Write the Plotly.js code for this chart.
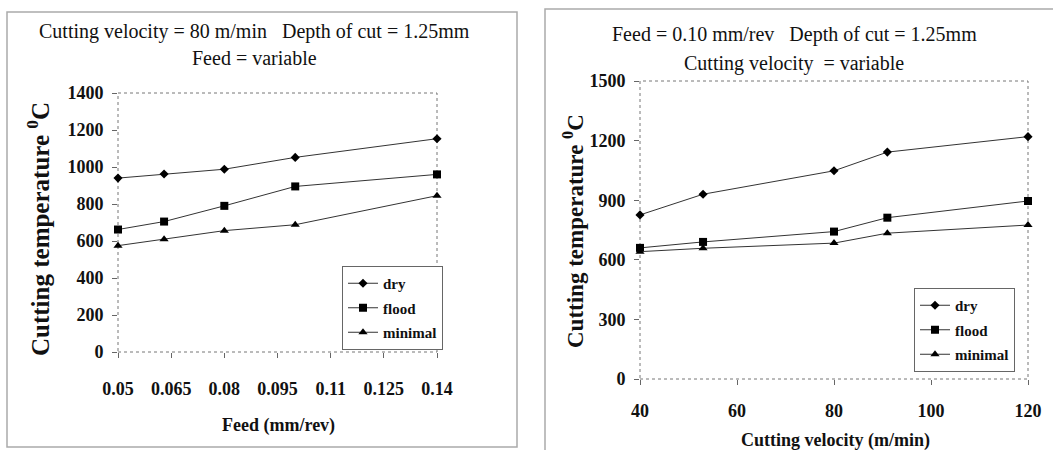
<!DOCTYPE html>
<html>
<head>
<meta charset="utf-8">
<script src="https://cdn.plot.ly/plotly-3.0.1.min.js"></script>
<style>html,body{margin:0;padding:0;background:#fff;}#chart{width:1053px;height:450px;}</style>
</head>
<body>
<div id="chart"></div>
<script>
// Left chart: feed variable
const feed = [0.05, 0.063, 0.08, 0.1, 0.14];
const feedDry = [940, 962, 988, 1052, 1153];
const feedFlood = [662, 705, 790, 895, 960];
const feedMinimal = [575, 610, 656, 688, 845];
const feedTickVals = [0.05, 0.065, 0.08, 0.095, 0.11, 0.125, 0.14];
const feedTickText = ["0.05", "0.065", "0.08", "0.095", "0.11", "0.125", "0.14"];

// Right chart: cutting velocity variable
const velocity = [40, 53, 80, 91, 120];
const velDry = [826, 930, 1048, 1142, 1220];
const velFlood = [660, 690, 742, 812, 896];
const velMinimal = [641, 658, 684, 734, 775];

const seriesNames = ["dry", "flood", "minimal"];
const symbols = ["diamond", "square", "triangle-up"];
const sizes = [7, 8, 8];

const serif = "Liberation Serif, Times New Roman, serif";
const ink = "#111";

function mk(x, y, i, xa, ya, leg) {
  return {
    x: x, y: y, name: seriesNames[i], type: "scatter", mode: "lines+markers",
    xaxis: xa, yaxis: ya, legend: leg, legendgroup: leg + i, cliponaxis: false,
    line: {color: "#333", width: 1},
    marker: {symbol: symbols[i], size: sizes[i], color: "#000"}
  };
}

const data = [
  mk(feed, feedDry, 0, "x", "y", "legend"),
  mk(feed, feedFlood, 1, "x", "y", "legend"),
  mk(feed, feedMinimal, 2, "x", "y", "legend"),
  mk(velocity, velDry, 0, "x2", "y2", "legend2"),
  mk(velocity, velFlood, 1, "x2", "y2", "legend2"),
  mk(velocity, velMinimal, 2, "x2", "y2", "legend2")
];

const W = 1053, H = 450;
const px = v => v / W, py = v => (H - v) / H;

const tickFont = {family: serif, size: 18, color: ink, weight: "bold"};
const axBase = {
  showgrid: false, zeroline: false, showline: false,
  ticks: "outside", ticklen: 5, tickcolor: "#666", tickwidth: 1,
  tickfont: tickFont
};

const legBase = {
  font: {family: serif, size: 15, color: ink, weight: "bold"},
  bgcolor: "#fff", bordercolor: "#666", borderwidth: 1,
  xanchor: "left", yanchor: "top", itemwidth: 30,
  traceorder: "grouped", tracegroupgap: 2
};

function ann(text, x, y, size, bold, angle) {
  return {
    text: text, xref: "paper", yref: "paper", x: px(x), y: py(y),
    xanchor: "center", yanchor: "middle", showarrow: false, textangle: angle || 0,
    font: {family: serif, size: size, color: ink, weight: bold ? "bold" : "normal"}
  };
}

const layout = {
  width: W, height: H,
  margin: {l: 0, r: 0, t: 0, b: 0},
  paper_bgcolor: "#fff", plot_bgcolor: "#fff",
  showlegend: true,
  xaxis: Object.assign({}, axBase, {
    domain: [px(118), px(437)], range: [0.05, 0.14],
    tickvals: feedTickVals, ticktext: feedTickText, ticklabelstandoff: 15, anchor: "y"
  }),
  yaxis: Object.assign({}, axBase, {
    domain: [py(352), py(93)], range: [0, 1400], dtick: 200, ticklabelstandoff: 5, anchor: "x"
  }),
  xaxis2: Object.assign({}, axBase, {
    domain: [px(640), px(1028)], range: [40, 120], dtick: 20, ticklabelstandoff: 10, anchor: "y2"
  }),
  yaxis2: Object.assign({}, axBase, {
    domain: [py(379), py(81)], range: [0, 1500], dtick: 300, ticklabelstandoff: 5, anchor: "x2"
  }),
  legend: Object.assign({}, legBase, {x: px(342), y: py(266)}),
  legend2: Object.assign({}, legBase, {x: px(914), y: py(288)}),
  shapes: [
    {type: "rect", xref: "paper", yref: "paper", x0: px(7), x1: px(517), y0: py(447), y1: py(12),
     line: {color: "#aaa", width: 1.5}},
    {type: "rect", xref: "paper", yref: "paper", x0: px(545), x1: px(1060), y0: py(460), y1: py(9),
     line: {color: "#aaa", width: 1.5}},
    {type: "rect", xref: "x domain", yref: "y domain", x0: 0, x1: 1, y0: 0, y1: 1,
     line: {color: "#777", width: 1, dash: "dot"}, layer: "below"},
    {type: "rect", xref: "x2 domain", yref: "y2 domain", x0: 0, x1: 1, y0: 0, y1: 1,
     line: {color: "#777", width: 1, dash: "dot"}, layer: "below"}
  ],
  annotations: [
    ann("Cutting velocity = 80 m/min&nbsp;&nbsp;&nbsp;Depth of cut = 1.25mm", 254, 31, 20, false),
    ann("Feed = variable", 254, 58, 20, false),
    ann("Feed = 0.10 mm/rev&nbsp;&nbsp;&nbsp;Depth of cut = 1.25mm", 794, 35, 20, false),
    ann("Cutting velocity&nbsp;&nbsp;= variable", 794, 63, 20, false),
    ann("Cutting temperature <sup>0</sup>C", 38, 229, 25, true, -90),
    ann("Cutting temperature <sup>0</sup>C", 573, 231, 23, true, -90),
    ann("Feed (mm/rev)", 278, 425, 18, true),
    ann("Cutting velocity (m/min)", 835, 440, 18, true)
  ]
};

Plotly.newPlot("chart", data, layout, {displayModeBar: false, staticPlot: true});
</script>
</body>
</html>
